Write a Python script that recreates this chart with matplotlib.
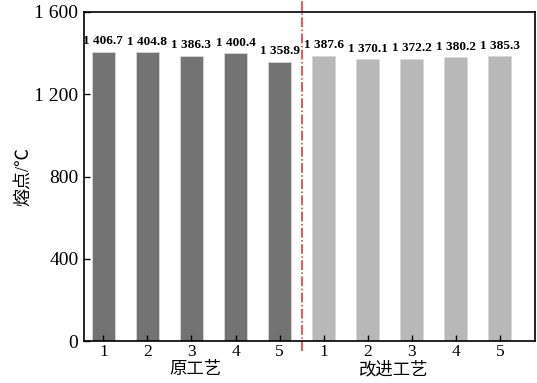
import matplotlib.pyplot as plt
import numpy as np

plt.rcParams['font.family'] = ['Liberation Serif', 'Noto Sans CJK SC', 'DejaVu Sans']
plt.rcParams['axes.unicode_minus'] = False

# melting point per sample, original vs improved process
orig_vals = [1406.7, 1404.8, 1386.3, 1400.4, 1358.9]
new_vals = [1387.6, 1370.1, 1372.2, 1380.2, 1385.3]
sample_labels = ['1', '2', '3', '4', '5']
group_names = ['原工艺', '改进工艺']
y_ticks = [0, 400, 800, 1200, 1600]


def fmt_num(v):
    # thousands separated by a space, e.g. "1 406.7"
    s = f'{v:,.1f}' if v >= 1000 else f'{v:.1f}'
    return s.replace(',', ' ')


values = orig_vals + new_vals
colors = ['#737373'] * len(orig_vals) + ['#b8b8b8'] * len(new_vals)
x = np.arange(len(values))

fig = plt.figure(figsize=(5.37, 3.83), dpi=100)
ax = fig.add_axes([84 / 537, 1 - 341 / 383, (535 - 84) / 537, (341 - 12) / 383])

ax.bar(x, values, width=0.52, color=colors, edgecolor='#d8d8d8', linewidth=0.6)
for xi, v in zip(x, values):
    ax.text(xi, v + 22, fmt_num(v), ha='center', va='bottom',
            fontsize=9.5, fontweight='bold')

ax.axvline(4.5, ymin=-0.03, ymax=1.04, color='#e8262b', linestyle='-.',
           linewidth=1.1, clip_on=False)

ax.set_xlim(-0.44, 9.8)
ax.set_ylim(0, 1600)
ax.set_yticks(y_ticks)
ax.set_yticklabels([fmt_num(t).replace('.0', '') for t in y_ticks], fontsize=14)
ax.set_xticks(x)
ax.set_xticklabels(sample_labels * 2, fontsize=12.5)
ax.tick_params(direction='in', length=4, width=1)
ax.tick_params(axis='x', pad=2)
ax.tick_params(axis='y', pad=4)
for sp in ax.spines.values():
    sp.set_linewidth(1.2)

ax.set_ylabel('熔点/℃', fontsize=13, labelpad=2)

for cx, name in zip([2.1, 6.6], group_names):
    ax.text(cx, -0.063, name, transform=ax.get_xaxis_transform(),
            ha='center', va='top', fontsize=12.5)

fig.savefig('out.png', dpi=100)
